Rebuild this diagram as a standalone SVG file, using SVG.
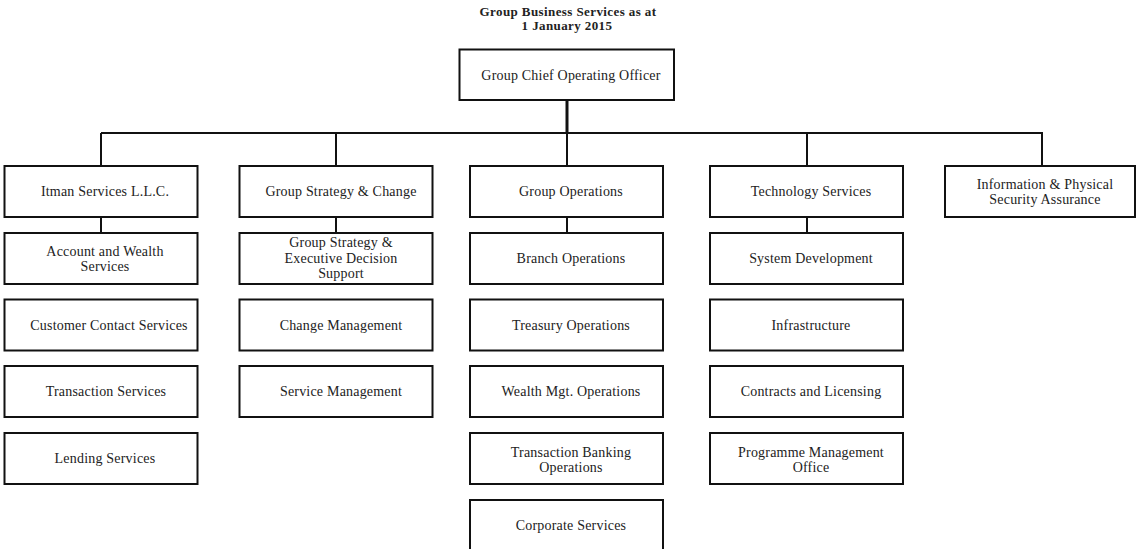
<svg xmlns="http://www.w3.org/2000/svg" width="1137" height="549" viewBox="0 0 1137 549">
<style>
.b{fill:#fff;stroke:#111;stroke-width:2}
.t{font-family:"Liberation Serif","Times New Roman",serif;font-size:14px;fill:#222;text-anchor:middle;letter-spacing:0.2px}
.h{font-family:"Liberation Serif","Times New Roman",serif;font-size:13px;font-weight:bold;fill:#222;text-anchor:middle;letter-spacing:0.4px}
.c{fill:none;stroke:#111;stroke-width:2}
</style>
<rect width="1137" height="549" fill="#fff"/>
<g id="title">
<text class="h" x="568" y="16">Group Business Services as at</text>
<text class="h" x="567" y="30">1 January 2015</text>
</g>
<g id="connectors">
<path class="c" d="M567 100V133" style="stroke-width:3"/>
<path class="c" d="M101 133H1042V166M101 133V166M336 133V166M567 133V166M807 133V166"/>
<path class="c" d="M101 217V233M336 217V233M567 217V233M807 217V233"/>
</g>
<g id="coo"><rect class="b" x="459.5" y="49.5" width="214.5" height="50.5"/><text class="t" x="571" y="80">Group Chief Operating Officer</text></g>
<g id="itman"><rect class="b" x="4.5" y="166" width="193" height="51"/><text class="t" x="105" y="196">Itman Services L.L.C.</text></g>
<g id="acct"><rect class="b" x="4.5" y="233" width="193" height="51"/><text class="t" x="105" y="256">Account and Wealth</text><text class="t" x="105" y="271">Services</text></g>
<g id="cust"><rect class="b" x="4.5" y="299.5" width="193" height="51"/><text class="t" x="109" y="330">Customer Contact Services</text></g>
<g id="trans"><rect class="b" x="4.5" y="366" width="193" height="51"/><text class="t" x="106" y="396">Transaction Services</text></g>
<g id="lend"><rect class="b" x="4.5" y="433" width="193" height="51"/><text class="t" x="105" y="463">Lending Services</text></g>
<g id="gsc"><rect class="b" x="239.5" y="166" width="193" height="51"/><text class="t" x="341" y="196">Group Strategy &amp; Change</text></g>
<g id="gsed"><rect class="b" x="239.5" y="233" width="193" height="51"/><text class="t" x="341" y="247">Group Strategy &amp;</text><text class="t" x="341" y="262.5">Executive Decision</text><text class="t" x="341" y="278">Support</text></g>
<g id="chg"><rect class="b" x="239.5" y="299.5" width="193" height="51"/><text class="t" x="341" y="330">Change Management</text></g>
<g id="svc"><rect class="b" x="239.5" y="366" width="193" height="51"/><text class="t" x="341" y="396">Service Management</text></g>
<g id="gops"><rect class="b" x="470" y="166" width="193" height="51"/><text class="t" x="571" y="196">Group Operations</text></g>
<g id="branch"><rect class="b" x="470" y="233" width="193" height="51"/><text class="t" x="571" y="263">Branch Operations</text></g>
<g id="treas"><rect class="b" x="470" y="299.5" width="193" height="51"/><text class="t" x="571" y="330">Treasury Operations</text></g>
<g id="wealth"><rect class="b" x="470" y="366" width="193" height="51"/><text class="t" x="571" y="396">Wealth Mgt. Operations</text></g>
<g id="tbo"><rect class="b" x="470" y="433" width="193" height="51"/><text class="t" x="571" y="456.5">Transaction Banking</text><text class="t" x="571" y="471.5">Operations</text></g>
<g id="corp"><rect class="b" x="470" y="500" width="193" height="51"/><text class="t" x="571" y="530">Corporate Services</text></g>
<g id="tech"><rect class="b" x="710" y="166" width="193" height="51"/><text class="t" x="811" y="196">Technology Services</text></g>
<g id="sysdev"><rect class="b" x="710" y="233" width="193" height="51"/><text class="t" x="811" y="263">System Development</text></g>
<g id="infra"><rect class="b" x="710" y="299.5" width="193" height="51"/><text class="t" x="811" y="330">Infrastructure</text></g>
<g id="contracts"><rect class="b" x="710" y="366" width="193" height="51"/><text class="t" x="811" y="396">Contracts and Licensing</text></g>
<g id="pmo"><rect class="b" x="710" y="433" width="193" height="51"/><text class="t" x="811" y="456.5">Programme Management</text><text class="t" x="811" y="471.5">Office</text></g>
<g id="infosec"><rect class="b" x="945" y="166" width="190" height="51"/><text class="t" x="1045" y="189">Information &amp; Physical</text><text class="t" x="1045" y="204">Security Assurance</text></g>
</svg>
